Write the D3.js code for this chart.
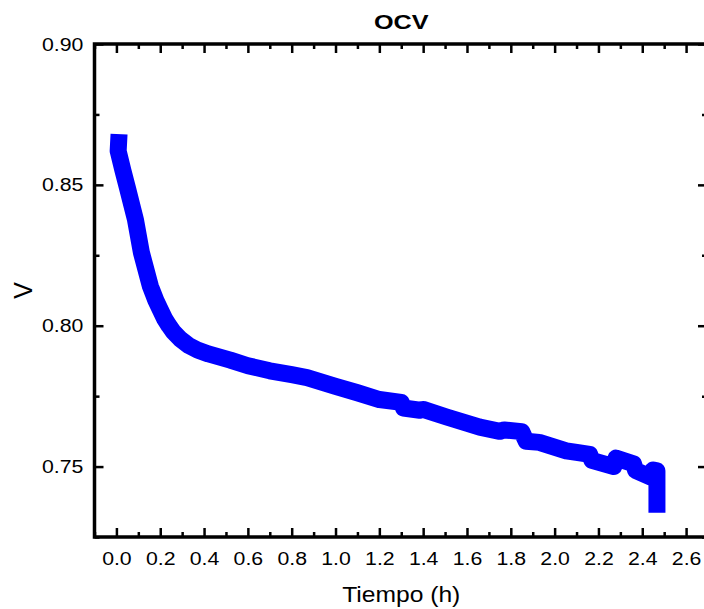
<!DOCTYPE html>
<html>
<head>
<meta charset="utf-8">
<script src="https://cdn.jsdelivr.net/npm/d3@7"></script>
<style>
  html, body { margin: 0; padding: 0; background: #fff; overflow: hidden; }
  svg { display: block; }
</style>
</head>
<body>
<svg id="chart" width="704" height="609"></svg>
<script>
// ---- data ----
const chartTitle = "OCV";
const xLabel = "Tiempo (h)";
const yLabel = "V";
const xTicks = [0.0, 0.2, 0.4, 0.6, 0.8, 1.0, 1.2, 1.4, 1.6, 1.8, 2.0, 2.2, 2.4, 2.6];
const yTicks = [0.75, 0.80, 0.85, 0.90];
const timeH = [
  0.010, 0.008, 0.030, 0.050, 0.087, 0.114, 0.155, 0.180, 0.200, 0.220,
  0.240, 0.260, 0.290, 0.330, 0.370, 0.420, 0.520, 0.600, 0.700, 0.800,
  0.870, 1.000, 1.100, 1.200, 1.300, 1.310, 1.385, 1.400, 1.507, 1.658,
  1.750, 1.770, 1.850, 1.870, 1.930, 2.053, 2.100, 2.160, 2.170, 2.270,
  2.280, 2.360, 2.370, 2.440, 2.450, 2.467, 2.467
];
const voltage = [
  0.8650, 0.8620, 0.8550, 0.8490, 0.8376, 0.8260, 0.8140, 0.8090, 0.8057, 0.8025,
  0.8000, 0.7978, 0.7954, 0.7930, 0.7914, 0.7900, 0.7878, 0.7858, 0.7840, 0.7826,
  0.7816, 0.7785, 0.7762, 0.7738, 0.7728, 0.7708, 0.7700, 0.7703, 0.7676, 0.7640,
  0.7625, 0.7630, 0.7624, 0.7590, 0.7586, 0.7556, 0.7550, 0.7543, 0.7522, 0.7500,
  0.7530, 0.7510, 0.7486, 0.7462, 0.7488, 0.7485, 0.7366
];

// ---- layout ----
const svg = d3.select("#chart");
const L = 94.5, R = 708, T = 44, B = 537;
const x = d3.scaleLinear().domain([-0.1, 2.7]).range([L, R]);
const y = d3.scaleLinear().domain([0.725, 0.90]).range([B, T]);
const FONT = "'Liberation Sans', Arial, sans-serif";
const SX = 1.12;

const data = timeH.map((t, i) => ({ t, v: voltage[i] }));

// data line
const line = d3.line().x(d => x(d.t)).y(d => y(d.v));
svg.append("path")
  .datum(data)
  .attr("d", line)
  .attr("fill", "none")
  .attr("stroke", "#0000ff")
  .attr("stroke-width", 17)
  .attr("stroke-linejoin", "round")
  .attr("stroke-linecap", "square");

// axes
const xMinor = d3.range(-0.1, 2.71, 0.1).map(v => +v.toFixed(2)).filter(v => !xTicks.some(t => Math.abs(t - v) < 1e-6));
const yMinor = [0.725, 0.775, 0.825, 0.875];

function styleAxis(g) {
  g.select(".domain").remove();
  g.selectAll(".tick line").attr("stroke", "#000").attr("stroke-width", 2.5);
}

// bottom
const gB = svg.append("g").attr("transform", `translate(0,${B})`)
  .call(d3.axisBottom(x).tickValues(xTicks).tickSizeInner(-9).tickSizeOuter(0).tickPadding(15).tickFormat(d3.format(".1f")));
styleAxis(gB);
gB.selectAll(".tick text")
  .style("font-size", "19px").style("font-family", FONT).attr("fill", "#000")
  .attr("transform", `scale(${SX},1)`);
svg.append("g").attr("transform", `translate(0,${B})`)
  .call(d3.axisBottom(x).tickValues(xMinor).tickSizeInner(-5).tickSizeOuter(0).tickFormat(""))
  .call(styleAxis);

// top
svg.append("g").attr("transform", `translate(0,${T})`)
  .call(d3.axisTop(x).tickValues(xTicks).tickSizeInner(-9).tickSizeOuter(0).tickFormat(""))
  .call(styleAxis);
svg.append("g").attr("transform", `translate(0,${T})`)
  .call(d3.axisTop(x).tickValues(xMinor).tickSizeInner(-5).tickSizeOuter(0).tickFormat(""))
  .call(styleAxis);

// left
const gL = svg.append("g").attr("transform", `translate(${L},0)`)
  .call(d3.axisLeft(y).tickValues(yTicks).tickSizeInner(-9).tickSizeOuter(0).tickPadding(10).tickFormat(d3.format(".2f")));
styleAxis(gL);
gL.selectAll(".tick text")
  .style("font-size", "19px").style("font-family", FONT).attr("fill", "#000")
  .attr("transform", `scale(${SX},1)`);
svg.append("g").attr("transform", `translate(${L},0)`)
  .call(d3.axisLeft(y).tickValues(yMinor).tickSizeInner(-5).tickSizeOuter(0).tickFormat(""))
  .call(styleAxis);

// right
svg.append("g").attr("transform", `translate(${R},0)`)
  .call(d3.axisRight(y).tickValues(yTicks).tickSizeInner(-10).tickSizeOuter(0).tickFormat(""))
  .call(styleAxis);
svg.append("g").attr("transform", `translate(${R},0)`)
  .call(d3.axisRight(y).tickValues(yMinor).tickSizeInner(-6).tickSizeOuter(0).tickFormat(""))
  .call(styleAxis);

// frame
svg.append("rect")
  .attr("x", L).attr("y", T).attr("width", R - L).attr("height", B - T)
  .attr("fill", "none").attr("stroke", "#000").attr("stroke-width", 3.5);

// titles
svg.append("text")
  .attr("transform", `translate(${(L + R) / 2},29) scale(1.2,1)`)
  .attr("text-anchor", "middle")
  .style("font-family", FONT).style("font-size", "21px").style("font-weight", "bold")
  .text(chartTitle);
svg.append("text")
  .attr("transform", `translate(${(L + R) / 2},602) scale(${SX},1)`)
  .attr("text-anchor", "middle")
  .style("font-family", FONT).style("font-size", "22px")
  .text(xLabel);
svg.append("text")
  .attr("transform", `translate(32,${(T + B) / 2}) rotate(-90)`)
  .attr("text-anchor", "middle")
  .style("font-family", FONT).style("font-size", "25px")
  .text(yLabel);
</script>
</body>
</html>
